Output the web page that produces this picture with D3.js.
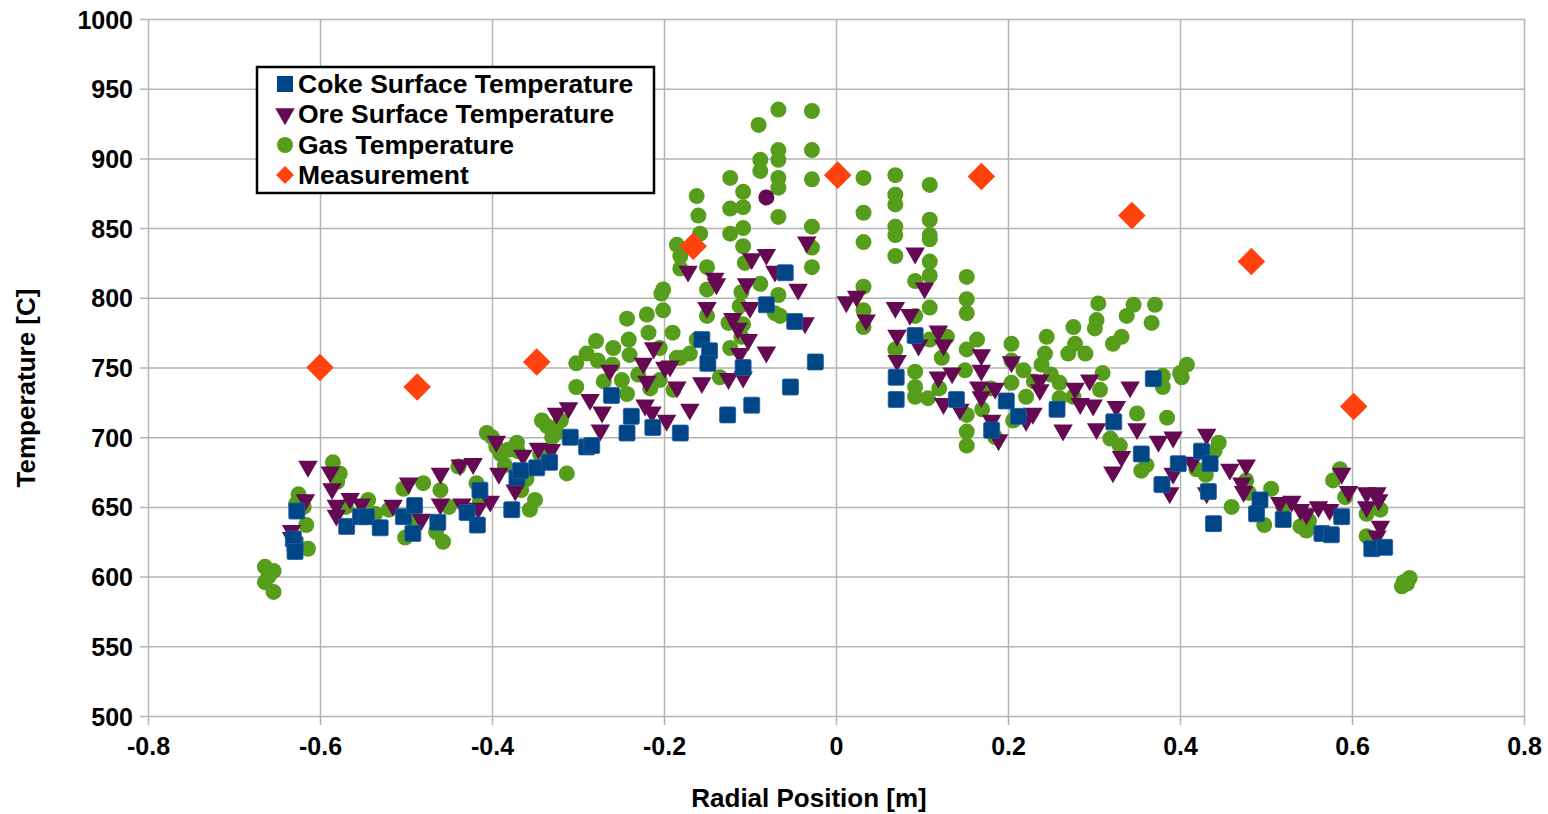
<!DOCTYPE html>
<html>
<head>
<meta charset="utf-8">
<script src="https://cdn.jsdelivr.net/npm/d3@7"></script>
<style>
  html, body { margin: 0; padding: 0; background: #fff; }
  svg text { font-family: "Liberation Sans", Arial, sans-serif; font-weight: bold; fill: #000; }
</style>
</head>
<body>
<svg id="chart" width="1548" height="814"></svg>
<script>
// x = radial position [m], y = temperature [C]
const xTicks = [-0.8, -0.6, -0.4, -0.2, 0, 0.2, 0.4, 0.6, 0.8];
const yTicks = [500, 550, 600, 650, 700, 750, 800, 850, 900, 950, 1000];

const coke = [
  [-0.627,647],[-0.629,623],[-0.631,627],[-0.629,618],[-0.569,636],[-0.553,643],[-0.546,643],[-0.530,635],
  [-0.503,643],[-0.490,651],[-0.492,631],[-0.463,639],[-0.429,646],[-0.417,637],[-0.414,662],[-0.377,648],
  [-0.371,671],[-0.367,676],[-0.348,678],[-0.333,682],[-0.309,700],[-0.290,693],[-0.284,694],[-0.261,730],
  [-0.243,703],[-0.238,715],[-0.213,707],[-0.181,703],[-0.156,770],[-0.147,762],[-0.149,753],[-0.108,750],
  [-0.126,716],[-0.098,723],[-0.081,795],[-0.059,818],[-0.048,783],[-0.024,754],[-0.053,736],
  [0.092,773],[0.070,743],[0.070,727],[0.140,727],[0.181,705],[0.198,726],[0.212,715],[0.257,720],[0.323,711],
  [0.369,742],[0.355,688],[0.379,666],[0.398,681],[0.425,690],[0.435,681],[0.433,661],[0.439,638],
  [0.493,655],[0.489,645],[0.520,641],[0.565,631],[0.576,630],[0.588,643],[0.623,620],[0.638,621]
];

const ore = [
  [-0.614,679],[-0.588,675],[-0.586,663],[-0.617,655],[-0.633,633],[-0.633,628],[-0.565,656],[-0.552,652],
  [-0.581,651],[-0.581,644],[-0.515,651],[-0.497,667],[-0.460,674],[-0.460,652],[-0.482,641],[-0.437,680],
  [-0.422,681],[-0.435,652],[-0.416,649],[-0.402,654],[-0.392,674],[-0.364,687],[-0.373,662],[-0.395,697],
  [-0.346,692],[-0.331,691],[-0.325,717],[-0.311,721],[-0.286,727],[-0.274,705],[-0.272,718],[-0.263,748],
  [-0.222,723],[-0.214,718],[-0.197,712],[-0.170,720],[-0.224,753],[-0.212,764],[-0.220,740],[-0.199,750],
  [-0.185,736],[-0.156,739],[-0.125,742],[-0.108,743],[-0.102,770],[-0.120,785],[-0.114,778],[-0.100,793],
  [-0.081,761],[-0.150,793],[-0.139,810],[-0.104,810],[-0.172,819],[-0.141,814],[-0.098,828],[-0.081,831],
  [-0.071,819],[-0.044,806],[-0.034,840],[-0.036,782],[-0.193,751],[-0.112,760],
  [0.012,797],[0.024,801],[0.035,784],[0.092,832],[0.103,807],[0.069,793],[0.086,788],[0.071,773],
  [0.096,766],[0.071,755],[0.119,776],[0.125,766],[0.119,743],[0.135,746],[0.125,724],[0.144,720],
  [0.169,759],[0.169,748],[0.166,736],[0.169,729],[0.185,735],[0.181,712],[0.189,698],[0.204,754],
  [0.237,741],[0.237,734],[0.229,717],[0.221,712],[0.264,705],[0.278,735],[0.295,741],[0.284,724],
  [0.299,723],[0.303,706],[0.326,722],[0.342,736],[0.350,706],[0.332,686],[0.322,675],[0.375,697],
  [0.392,700],[0.392,674],[0.388,660],[0.431,702],[0.414,682],[0.431,660],[0.458,677],[0.477,680],
  [0.472,667],[0.474,661],[0.516,653],[0.530,654],[0.540,648],[0.547,645],[0.561,650],[0.574,648],
  [0.588,674],[0.596,661],[0.617,660],[0.629,660],[0.617,650],[0.631,655],[0.633,636],[0.629,629]
];

const gas = [
  [-0.664,607],[-0.654,604],[-0.664,596],[-0.654,589],[-0.660,600],[-0.585,682],[-0.577,674],[-0.625,659],
  [-0.619,650],[-0.616,637],[-0.614,620],[-0.628,652],[-0.580,668],[-0.570,650],[-0.544,655],[-0.536,645],
  [-0.520,648],[-0.503,663],[-0.501,628],[-0.490,640],[-0.480,667],[-0.465,632],[-0.460,662],[-0.457,625],
  [-0.450,650],[-0.439,679],[-0.418,667],[-0.414,654],[-0.400,700],[-0.395,693],[-0.381,691],[-0.366,662],
  [-0.360,670],[-0.356,648],[-0.350,655],[-0.390,688],[-0.385,680],[-0.370,690],[-0.330,700],[-0.320,712],
  [-0.406,703],[-0.371,696],[-0.342,712],[-0.336,708],[-0.302,753],[-0.302,736],[-0.279,769],[-0.277,755],
  [-0.259,764],[-0.243,785],[-0.241,770],[-0.220,788],[-0.218,775],[-0.203,803],[-0.201,791],[-0.240,759],
  [-0.205,764],[-0.181,757],[-0.249,741],[-0.243,731],[-0.216,735],[-0.162,770],[-0.135,743],[-0.150,787],
  [-0.110,772],[-0.112,794],[-0.071,789],[-0.344,688],[-0.325,703],[-0.313,674],[-0.205,741],[-0.189,734],
  [-0.290,760],[-0.270,740],[-0.260,752],[-0.230,745],[-0.190,775],[-0.170,760],
  [-0.067,935],[-0.028,934],[-0.090,924],[-0.067,906],[-0.028,906],[-0.067,899],[-0.088,899],[-0.088,891],
  [-0.067,886],[-0.067,879],[-0.028,885],[-0.123,886],[-0.108,876],[-0.123,864],[-0.108,865],[-0.162,873],
  [-0.160,859],[-0.158,846],[-0.123,846],[-0.108,850],[-0.067,858],[-0.028,851],[-0.028,836],[-0.028,822],
  [-0.185,838],[-0.181,830],[-0.181,821],[-0.150,822],[-0.108,837],[-0.106,825],[-0.201,806],[-0.150,806],
  [-0.110,804],[-0.088,810],[-0.067,802],[-0.065,787],[-0.108,781],[-0.125,782],[-0.123,764],[-0.185,757],
  [0.032,886],[0.069,888],[0.109,881],[0.032,861],[0.069,874],[0.069,867],[0.069,851],[0.069,845],
  [0.032,840],[0.109,856],[0.109,845],[0.109,842],[0.069,830],[0.109,826],[0.109,816],[0.092,812],
  [0.152,815],[0.152,799],[0.152,789],[0.032,808],[0.032,791],[0.032,779],[0.109,793],[0.092,787],
  [0.069,763],[0.092,747],[0.092,736],[0.092,729],[0.107,728],[0.109,770],[0.129,772],[0.123,757],
  [0.152,763],[0.164,770],[0.150,748],[0.152,716],[0.152,704],[0.152,694],[0.185,700],[0.204,767],
  [0.204,755],[0.218,748],[0.204,739],[0.221,729],[0.206,712],[0.245,772],[0.243,760],[0.239,752],
  [0.260,739],[0.276,779],[0.278,767],[0.270,760],[0.303,784],[0.301,778],[0.305,796],[0.307,734],
  [0.322,767],[0.276,729],[0.120,735],[0.170,720],[0.180,735],[0.230,740],[0.250,745],[0.260,728],
  [0.290,760],[0.310,746],
  [0.346,795],[0.371,795],[0.338,787],[0.367,782],[0.332,772],[0.408,752],[0.402,743],[0.380,736],
  [0.385,714],[0.350,717],[0.319,699],[0.330,694],[0.361,680],[0.355,676],[0.419,677],[0.430,673],
  [0.445,696],[0.460,650],[0.477,669],[0.506,663],[0.498,637],[0.540,636],[0.547,633],[0.586,677],
  [0.578,669],[0.592,657],[0.617,645],[0.633,648],[0.617,629],[0.658,593],[0.667,599],[0.660,596],[0.664,595],
  [0.380,744],[0.400,746],[0.440,690],[0.480,660],[0.520,650],[0.550,640]
];

// one ore-coloured round point in the original
const oddPoint = [[-0.081,872]];

const measurement = [
  [-0.600,750],[-0.487,736],[-0.348,754],[-0.166,837],[0.002,888],
  [0.169,887],[0.344,859],[0.483,826],[0.602,722]
];

const names = ["Coke Surface Temperature", "Ore Surface Temperature", "Gas Temperature", "Measurement"];
const colors = { coke: "#004586", ore: "#650a52", gas: "#579d1c", meas: "#ff420e" };

const svg = d3.select("#chart");
const L = 148, R = 1524, T = 19, B = 716;

const x = d3.scaleLinear().domain([-0.8, 0.8]).range([L, R]);
const y = d3.scaleLinear().domain([500, 1000]).range([B, T]);

// grid + axes
const gy = svg.append("g").attr("transform", `translate(${L},0)`)
  .call(d3.axisLeft(y).tickValues(yTicks).tickSize(-(R - L)).tickFormat(d3.format("d")));
gy.select(".domain").remove();
gy.selectAll(".tick line").attr("x1", -8).attr("stroke", "#b3b3b3").attr("stroke-width", 1.5);
gy.selectAll(".tick text").attr("x", -15).attr("dy", "0.36em").style("font-size", "25px");

// plain hyphen for negatives, like the original
const gx = svg.append("g").attr("transform", `translate(0,${B})`)
  .call(d3.axisBottom(x).tickValues(xTicks).tickSize(-(B - T)).tickFormat(d => d === 0 ? "0" : d.toFixed(1)));
gx.select(".domain").remove();
gx.selectAll(".tick line").attr("y1", 9).attr("stroke", "#b3b3b3").attr("stroke-width", 1.5);
gx.selectAll(".tick text").attr("y", 21).attr("dy", "0.71em").style("font-size", "25px");

svg.selectAll("g.tick text").attr("fill", "#000");

// points
const plot = svg.append("g");

const triangle = d3.symbol().type(d3.symbolTriangle).size(165);
const diamond = d3.symbol().type(d3.symbolSquare).size(380);

plot.append("g").selectAll("circle").data(gas).join("circle")
  .attr("cx", d => x(d[0])).attr("cy", d => y(d[1])).attr("r", 8)
  .attr("fill", colors.gas);

plot.append("g").selectAll("circle").data(oddPoint).join("circle")
  .attr("cx", d => x(d[0])).attr("cy", d => y(d[1])).attr("r", 8)
  .attr("fill", colors.ore);

plot.append("g").selectAll("path").data(ore).join("path")
  .attr("d", triangle)
  .attr("transform", d => `translate(${x(d[0])},${y(d[1])}) rotate(180)`)
  .attr("fill", colors.ore);

plot.append("g").selectAll("rect").data(coke).join("rect")
  .attr("x", d => x(d[0]) - 8).attr("y", d => y(d[1]) - 8)
  .attr("width", 16).attr("height", 16).attr("rx", 1.5)
  .attr("fill", colors.coke).attr("stroke", "#1f5e9c").attr("stroke-width", 0.8);

plot.append("g").selectAll("path").data(measurement).join("path")
  .attr("d", diamond)
  .attr("transform", d => `translate(${x(d[0])},${y(d[1])}) rotate(45)`)
  .attr("fill", colors.meas);

// axis titles
svg.append("text").attr("x", 809).attr("y", 807).attr("text-anchor", "middle")
  .style("font-size", "26px").text("Radial Position [m]");
svg.append("text").attr("transform", "translate(35,388) rotate(-90)").attr("text-anchor", "middle")
  .style("font-size", "26px").text("Temperature [C]");

// legend
const lg = svg.append("g");
lg.append("rect").attr("x", 257).attr("y", 67).attr("width", 397).attr("height", 126)
  .attr("fill", "#fff").attr("stroke", "#000").attr("stroke-width", 2.5);

const rowY = [84, 114, 145, 175];
const sx = 285;
lg.append("rect").attr("x", sx - 8).attr("y", rowY[0] - 8).attr("width", 16).attr("height", 16).attr("fill", colors.coke);
lg.append("path").attr("d", triangle).attr("transform", `translate(${sx},${rowY[1]}) rotate(180)`).attr("fill", colors.ore);
lg.append("circle").attr("cx", sx).attr("cy", rowY[2]).attr("r", 8).attr("fill", colors.gas);
lg.append("path").attr("d", d3.symbol().type(d3.symbolSquare).size(160))
  .attr("transform", `translate(${sx},${rowY[3]}) rotate(45)`).attr("fill", colors.meas);

lg.selectAll("text.lbl").data(names).join("text").attr("class", "lbl")
  .attr("x", 298).attr("y", (d, i) => rowY[i] + 9)
  .style("font-size", "26.5px").text(d => d);
</script>
</body>
</html>
